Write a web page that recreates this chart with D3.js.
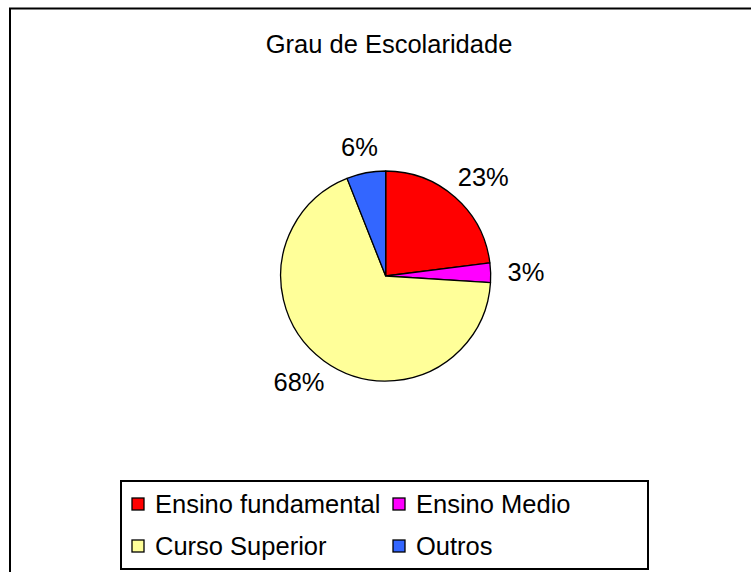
<!DOCTYPE html>
<html>
<head>
<meta charset="utf-8">
<script src="https://cdn.jsdelivr.net/npm/d3@7"></script>
<style>
  body { margin: 0; background: #fff; }
  text { font-family: "Liberation Sans", Arial, sans-serif; fill: #000; }
</style>
</head>
<body>
<div id="chart"></div>
<script>
// Chart data
const categories = ["Ensino fundamental", "Ensino Medio", "Curso Superior", "Outros"];
const values = [23, 3, 68, 6];
const colors = ["#FF0000", "#FF00FF", "#FFFF99", "#3366FF"];
const title = "Grau de Escolaridade";

const width = 751, height = 572;
const fontSize = 25.5;

const svg = d3.select("#chart")
    .append("svg")
    .attr("width", width)
    .attr("height", height);

// Outer chart border (runs off the right and bottom of the window)
svg.append("rect")
    .attr("x", 10)
    .attr("y", 8.5)
    .attr("width", 800)
    .attr("height", 600)
    .attr("fill", "#fff")
    .attr("stroke", "#000")
    .attr("stroke-width", 2);

// Title
svg.append("text")
    .attr("x", 389)
    .attr("y", 53)
    .attr("text-anchor", "middle")
    .style("font-size", fontSize + "px")
    .text(title);

// Pie
const cx = 385.7, cy = 276, radius = 105;
const total = d3.sum(values);

const pie = d3.pie().sort(null).value(d => d)(values);
const arc = d3.arc().innerRadius(0).outerRadius(radius);

const g = svg.append("g")
    .attr("transform", "translate(" + cx + "," + cy + ")");

g.selectAll("path")
    .data(pie)
    .enter()
    .append("path")
    .attr("d", arc)
    .attr("fill", (d, i) => colors[i])
    .attr("stroke", "#000")
    .attr("stroke-width", 1.3)
    .attr("stroke-linejoin", "round");

// Percent labels placed outside the pie, box pushed outward along the mid angle
const gap = 17;
g.selectAll(".label")
    .data(pie)
    .enter()
    .append("text")
    .attr("class", "label")
    .style("font-size", fontSize + "px")
    .attr("text-anchor", "middle")
    .text(d => Math.round(d.value / total * 100) + "%")
    .each(function (d) {
        const a = (d.startAngle + d.endAngle) / 2;
        const ux = Math.sin(a), uy = -Math.cos(a);
        const bb = this.getBBox();
        const x = (radius + gap) * ux + ux * bb.width / 2;
        const y = (radius + gap) * uy + uy * 9.5;
        d3.select(this).attr("x", x).attr("y", y + 9);
    });

// Legend
const legend = { x: 121, y: 481, w: 527, h: 88 };
svg.append("rect")
    .attr("x", legend.x)
    .attr("y", legend.y)
    .attr("width", legend.w)
    .attr("height", legend.h)
    .attr("fill", "#fff")
    .attr("stroke", "#000")
    .attr("stroke-width", 2);

const colX = [132, 393];
const rowY = [513, 555];

const items = svg.selectAll(".legend-item")
    .data(categories)
    .enter()
    .append("g")
    .attr("class", "legend-item")
    .attr("transform", (d, i) => "translate(" + colX[i % 2] + "," + rowY[Math.floor(i / 2)] + ")");

items.append("rect")
    .attr("x", 0)
    .attr("y", -15)
    .attr("width", 12)
    .attr("height", 12)
    .attr("fill", (d, i) => colors[i])
    .attr("stroke", "#000")
    .attr("stroke-width", 1.3);

items.append("text")
    .attr("x", 23)
    .attr("y", 0)
    .style("font-size", fontSize + "px")
    .text(d => d);
</script>
</body>
</html>
